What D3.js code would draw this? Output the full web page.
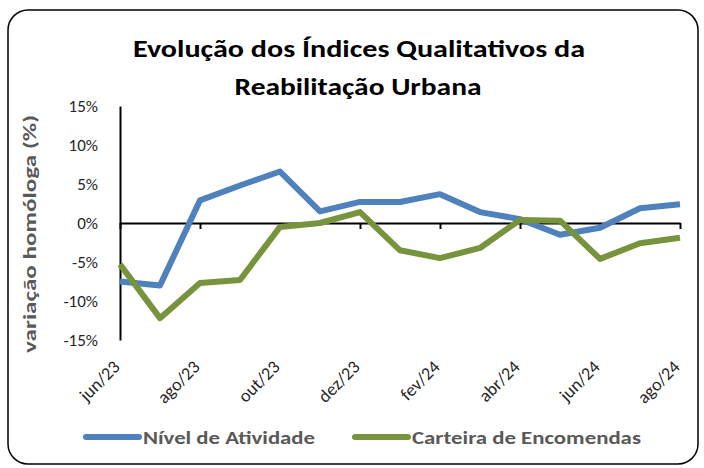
<!DOCTYPE html>
<html>
<head>
<meta charset="utf-8">
<script src="https://cdn.jsdelivr.net/npm/d3@7"></script>
<style>
  body { margin: 0; background: #fff; }
  text { font-family: Carlito, Calibri, "Open Sans", sans-serif; }
</style>
</head>
<body>
<script>
"use strict";

// data
const months = ['jun/23','jul/23','ago/23','set/23','out/23','nov/23','dez/23',
                'jan/24','fev/24','mar/24','abr/24','mai/24','jun/24','jul/24','ago/24'];
const nivelAtividade = [-7.5, -8.0, 2.9, 4.8, 6.6, 1.5, 2.7, 2.7, 3.7, 1.4, 0.5, -1.5, -0.6, 1.9, 2.4];
const carteiraEncomendas = [-5.3, -12.2, -7.7, -7.3, -0.5, 0.0, 1.4, -3.5, -4.5, -3.2, 0.4, 0.3, -4.6, -2.6, -1.9];
const yTicks = [15, 10, 5, 0, -5, -10, -15];
const seriesNames = ['Nível de Atividade', 'Carteira de Encomendas'];
const colors = ['#4f81bd', '#77933c'];

const W = 704, H = 468;

const svg = d3.select('body')
    .append('svg')
    .attr('width', W)
    .attr('height', H);

// frame
svg.append('rect')
    .attr('x', 8).attr('y', 10)
    .attr('width', 690).attr('height', 454)
    .attr('rx', 20).attr('ry', 20)
    .attr('fill', '#fff')
    .attr('stroke', '#000')
    .attr('stroke-width', 1.5);

// title
const title = svg.append('g')
    .attr('font-weight', 'bold')
    .attr('font-size', 24)
    .attr('fill', '#000')
    .attr('text-anchor', 'middle');
title.append('text').attr('x', 359).attr('y', 57)
    .attr('textLength', 452).attr('lengthAdjust', 'spacingAndGlyphs')
    .text('Evolução dos Índices Qualitativos da');
title.append('text').attr('x', 358).attr('y', 95)
    .attr('textLength', 247).attr('lengthAdjust', 'spacingAndGlyphs')
    .text('Reabilitação Urbana');

const x = d3.scalePoint().domain(months).range([120, 680]);
const y = d3.scaleLinear().domain([-15, 15]).range([340, 106]);

// y axis
const yAxis = svg.append('g')
    .attr('transform', 'translate(120,0)')
    .call(d3.axisLeft(y).tickValues(yTicks).tickSize(0).tickPadding(22)
          .tickFormat(d => d + '%'));
yAxis.select('.domain').attr('stroke', '#000').attr('stroke-width', 2);
yAxis.selectAll('text')
    .attr('font-size', 17)
    .attr('fill', '#262626')
    .style('font-family', 'Carlito, Calibri, "Open Sans", sans-serif');

// y label
svg.append('text')
    .attr('transform', 'translate(36,234) rotate(-90)')
    .attr('text-anchor', 'middle')
    .attr('font-size', 19)
    .attr('font-weight', 'bold')
    .attr('fill', '#595959')
    .attr('textLength', 238).attr('lengthAdjust', 'spacingAndGlyphs')
    .text('variação homóloga (%)');

// x axis at zero
const shown = months.filter((m, i) => i % 2 === 0);
const xAxis = svg.append('g')
    .attr('transform', 'translate(0,' + y(0) + ')')
    .call(d3.axisBottom(x).tickValues(shown).tickSize(6).tickSizeOuter(0).tickFormat(''));
xAxis.select('.domain').attr('stroke', '#000').attr('stroke-width', 2);
xAxis.selectAll('.tick line').attr('stroke', '#000').attr('stroke-width', 2);

// x labels below plot
svg.append('g').selectAll('text')
    .data(shown)
    .enter()
    .append('text')
    .attr('transform', d => 'translate(' + (x(d) + 1) + ',368) rotate(-45)')
    .attr('text-anchor', 'end')
    .attr('font-size', 18)
    .attr('fill', '#262626')
    .text(d => d);

// lines
const line = d3.line()
    .x((d, i) => x(months[i]))
    .y(d => y(d));
[nivelAtividade, carteiraEncomendas].forEach((vals, i) => {
    svg.append('path')
        .datum(vals)
        .attr('d', line)
        .attr('fill', 'none')
        .attr('stroke', colors[i])
        .attr('stroke-width', 6)
        .attr('stroke-linejoin', 'round')
        .attr('stroke-linecap', 'butt');
});

// legend
const legendX = [86, 355];
const legendW = [172, 229];
const legend = svg.append('g').selectAll('g')
    .data(seriesNames)
    .enter()
    .append('g')
    .attr('transform', (d, i) => 'translate(' + legendX[i] + ',437)');
legend.append('line')
    .attr('x1', 0).attr('x2', 53)
    .attr('stroke', (d, i) => colors[i])
    .attr('stroke-width', 6)
    .attr('stroke-linecap', 'round');
legend.append('text')
    .attr('x', 57).attr('y', 7)
    .attr('font-size', 19)
    .attr('font-weight', 'bold')
    .attr('fill', '#595959')
    .attr('textLength', (d, i) => legendW[i]).attr('lengthAdjust', 'spacingAndGlyphs')
    .text(d => d);
</script>
</body>
</html>
